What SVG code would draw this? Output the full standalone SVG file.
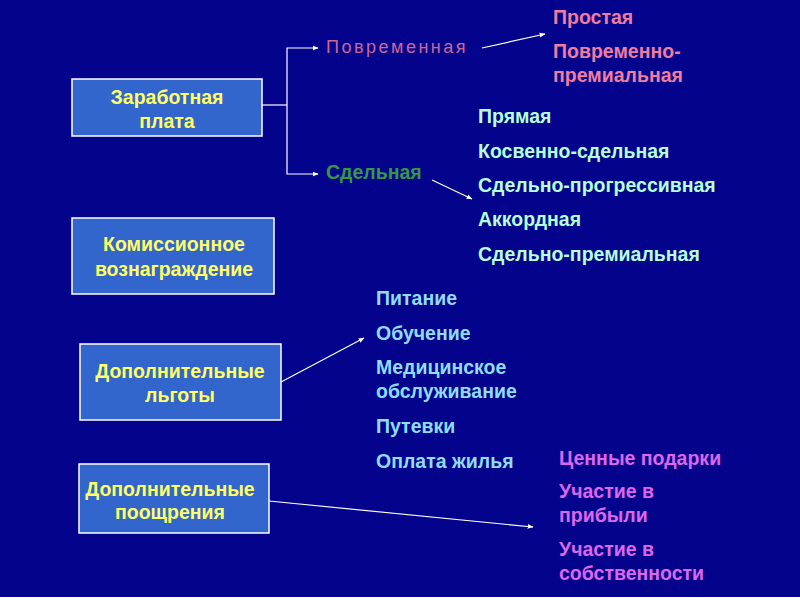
<svg xmlns="http://www.w3.org/2000/svg" width="800" height="600" viewBox="0 0 800 600">
<defs>
<marker id="ah" viewBox="0 0 10 10" refX="9" refY="5" markerWidth="6" markerHeight="6" orient="auto" markerUnits="userSpaceOnUse">
<path d="M0,1 L10,5 L0,9 z" fill="#ffffff"/>
</marker>
<style>
.box{fill:#3366cc;stroke:#ffffff;stroke-width:1.5}
.bt{font-family:"Liberation Sans",Arial,sans-serif;font-weight:bold;font-size:19.5px;fill:#ffff66;text-anchor:middle}
.t{font-family:"Liberation Sans",Arial,sans-serif;font-weight:bold;font-size:19.5px}
.pink{fill:#f07ca0}
.mint{fill:#b4ffd8}
.sky{fill:#90dcff}
.mag{fill:#dd66ee}
.con{fill:none;stroke:#ffffff;stroke-width:1.2}
</style>
</defs>
<rect x="0" y="0" width="800" height="600" fill="#03038c"/>
<rect x="0" y="597" width="800" height="3" fill="#ffffff"/>

<g id="connectors">
<polyline class="con" points="262,105 287,105"/>
<polyline class="con" points="287,105 287,48 318,48" marker-end="url(#ah)"/>
<polyline class="con" points="287,105 287,174 318,174" marker-end="url(#ah)"/>
<line class="con" x1="482" y1="48" x2="545" y2="34" marker-end="url(#ah)"/>
<line class="con" x1="432" y1="180" x2="472" y2="199" marker-end="url(#ah)"/>
<line class="con" x1="281" y1="382" x2="364" y2="338" marker-end="url(#ah)"/>
<line class="con" x1="269" y1="501" x2="533" y2="527" marker-end="url(#ah)"/>
</g>

<g id="zarplata">
<rect class="box" x="72" y="79" width="190" height="57"/>
<text class="bt" x="167" y="104">Заработная</text>
<text class="bt" x="167" y="128">плата</text>
</g>

<g id="komissionnoe">
<rect class="box" x="72" y="218" width="202" height="76"/>
<text class="bt" x="174" y="251">Комиссионное</text>
<text class="bt" x="174" y="276">вознаграждение</text>
</g>

<g id="lgoty">
<rect class="box" x="80" y="344" width="201" height="76"/>
<text class="bt" x="180" y="378">Дополнительные</text>
<text class="bt" x="180" y="402">льготы</text>
</g>

<g id="pooshchreniya">
<rect class="box" x="79" y="464" width="190" height="69"/>
<text class="bt" x="170" y="496">Дополнительные</text>
<text class="bt" x="170" y="519">поощрения</text>
</g>

<g id="povremennaya">
<text x="326" y="53" font-family="'Liberation Sans',Arial,sans-serif" font-size="18" letter-spacing="2.5" fill="#cc6699">Повременная</text>
</g>
<g id="sdelnaya">
<text class="t" x="326" y="179" fill="#339944">Сдельная</text>
</g>

<g id="povrem-list">
<text class="t pink" x="553" y="24">Простая</text>
<text class="t pink" x="553" y="58">Повременно-</text>
<text class="t pink" x="553" y="82">премиальная</text>
</g>

<g id="sdel-list">
<text class="t mint" x="478" y="123">Прямая</text>
<text class="t mint" x="478" y="158">Косвенно-сдельная</text>
<text class="t mint" x="478" y="192">Сдельно-прогрессивная</text>
<text class="t mint" x="478" y="226">Аккордная</text>
<text class="t mint" x="478" y="261">Сдельно-премиальная</text>
</g>

<g id="lgoty-list">
<text class="t sky" x="376" y="305">Питание</text>
<text class="t sky" x="376" y="340">Обучение</text>
<text class="t sky" x="376" y="374">Медицинское</text>
<text class="t sky" x="376" y="398">обслуживание</text>
<text class="t sky" x="376" y="433">Путевки</text>
<text class="t sky" x="376" y="468">Оплата жилья</text>
</g>

<g id="pooshch-list">
<text class="t mag" x="559" y="465">Ценные подарки</text>
<text class="t mag" x="559" y="498">Участие в</text>
<text class="t mag" x="559" y="522">прибыли</text>
<text class="t mag" x="559" y="556">Участие в</text>
<text class="t mag" x="559" y="580">собственности</text>
</g>
</svg>
